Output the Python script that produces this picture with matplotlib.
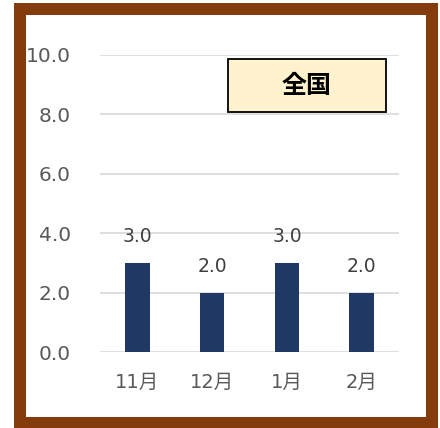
import matplotlib
matplotlib.use("Agg")
import matplotlib.pyplot as plt
from matplotlib.patches import Rectangle

plt.rcParams['font.family'] = ['DejaVu Sans', 'Noto Sans CJK JP']

categories = ['11月', '12月', '1月', '2月']
values = [3.0, 2.0, 3.0, 2.0]
yticks = [0.0, 2.0, 4.0, 6.0, 8.0, 10.0]
legend_label = '全国'

W, H = 440, 428
fig = plt.figure(figsize=(W / 100, H / 100), dpi=100)
fig.patch.set_facecolor('white')

ax = fig.add_axes([100 / W, 76 / H, 299 / W, 297 / H])
x = list(range(len(categories)))
ax.bar(x, values, width=0.33, color='#203864', zorder=3)
ax.set_xlim(-0.5, len(categories) - 0.5)
ax.set_ylim(0, 10)
ax.set_yticks(yticks)
ax.set_yticklabels([f'{v:.1f}' for v in yticks], fontsize=14.5, color='#595959')
ax.set_xticks(x)
ax.set_xticklabels(categories, fontsize=14, color='#595959')
ax.tick_params(axis='y', length=0, pad=21)
ax.tick_params(axis='x', length=0, pad=15)
ax.grid(axis='y', color='#D9D9D9', linewidth=1.2, zorder=0)
for s in ax.spines.values():
    s.set_visible(False)
ax.set_facecolor('none')

for xi, v in zip(x, values):
    ax.annotate(f'{v:.1f}', (xi, v), xytext=(0, 12), textcoords='offset points',
                ha='center', va='bottom', fontsize=13.5, color='#404040')

# legend-like label box
fig.text(307 / W, 1 - 86 / H, legend_label, ha='center', va='center',
         fontsize=18, fontweight='bold', family=['Noto Sans CJK JP'],
         zorder=6)
box = Rectangle((228 / W, 1 - 112 / H), 158 / W, 53 / H, transform=fig.transFigure,
                facecolor='#FFF2CC', edgecolor='black', linewidth=1.3, zorder=5)
fig.patches.append(box)

# brown frame
frame = Rectangle((20 / W, 1 - 422.5 / H), 411.5 / W, 413.5 / H,
                  transform=fig.transFigure, fill=False,
                  edgecolor='#843C0C', linewidth=12 * 0.72, zorder=10)
fig.patches.append(frame)

fig.savefig('out.png', dpi=100)
